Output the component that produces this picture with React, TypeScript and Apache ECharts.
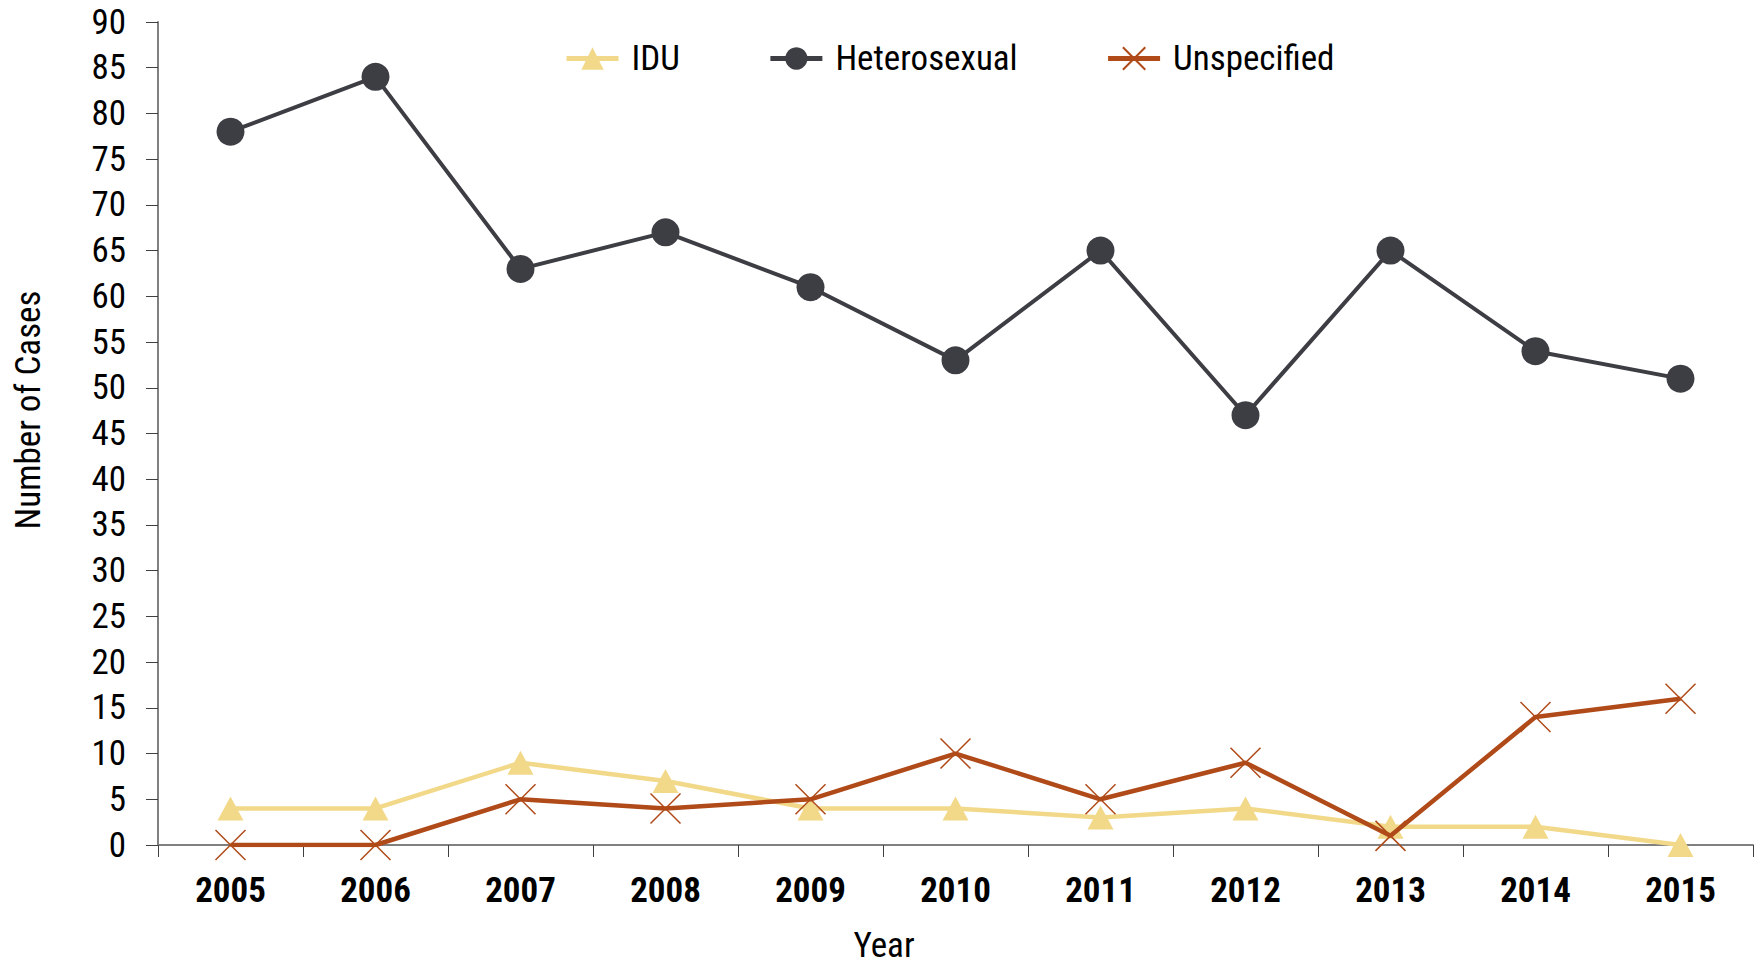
import React, { useEffect, useRef } from "react";
import * as echarts from "echarts";

const years = ["2005", "2006", "2007", "2008", "2009", "2010", "2011", "2012", "2013", "2014", "2015"];
const idu = [4, 4, 9, 7, 4, 4, 3, 4, 2, 2, 0];
const heterosexual = [78, 84, 63, 67, 61, 53, 65, 47, 65, 54, 51];
const unspecified = [0, 0, 5, 4, 5, 10, 5, 9, 1, 14, 16];

const FONT = "'Roboto Condensed', 'DejaVu Sans Condensed', sans-serif";
const C_IDU = "#f2d98a";
const C_HET = "#3c3e44";
const C_UNS = "#b04a18";

export default function App() {
  const ref = useRef<HTMLDivElement>(null);
  useEffect(() => {
    if (!ref.current) return;
    const chart = echarts.init(ref.current, null, { renderer: "svg" });
    chart.setOption({
      animation: false,
      backgroundColor: "#ffffff",
      textStyle: { fontFamily: FONT },
      grid: { left: 158, right: 8, top: 22, bottom: 120, containLabel: false },
      legend: {
        left: 559,
        top: 36,
        itemWidth: 52,
        itemHeight: 28,
        itemGap: 88,
        lineStyle: { width: 5 },
        textStyle: { fontFamily: FONT, fontSize: 35, color: "#000", padding: [0, 0, 0, 8] },
        data: ["IDU", "Heterosexual", "Unspecified"],
      },
      xAxis: {
        type: "category",
        data: years,
        boundaryGap: true,
        axisLine: { lineStyle: { color: "#808080", width: 2 } },
        axisTick: { show: true, length: 12, lineStyle: { color: "#404040", width: 1 } },
        axisLabel: { fontFamily: FONT, fontSize: 35, fontWeight: "bold", color: "#000", margin: 28 },
      },
      yAxis: {
        type: "value",
        min: 0,
        max: 90,
        interval: 5,
        splitLine: { show: false },
        axisLine: { show: true, lineStyle: { color: "#808080", width: 2 } },
        axisTick: { show: true, length: 12, lineStyle: { color: "#404040", width: 1 } },
        axisLabel: { fontFamily: FONT, fontSize: 35, color: "#000", margin: 32 },
      },
      graphic: [
        {
          type: "text",
          x: 28,
          y: 410,
          rotation: Math.PI / 2,
          style: {
            text: "Number of Cases",
            fontFamily: FONT,
            fontSize: 35,
            fill: "#000",
            align: "center",
            verticalAlign: "middle",
          },
        },
        {
          type: "text",
          x: 884,
          y: 945,
          style: {
            text: "Year",
            fontFamily: FONT,
            fontSize: 35,
            fill: "#000",
            align: "center",
            verticalAlign: "middle",
          },
        },
      ],
      series: [
        {
          name: "IDU",
          type: "line",
          data: idu,
          symbol: "triangle",
          symbolSize: [26, 24],
          lineStyle: { color: C_IDU, width: 4.5 },
          itemStyle: { color: C_IDU },
          z: 2,
        },
        {
          name: "Heterosexual",
          type: "line",
          data: heterosexual,
          symbol: "circle",
          symbolSize: 28,
          lineStyle: { color: C_HET, width: 4 },
          itemStyle: { color: C_HET },
          z: 3,
        },
        {
          name: "Unspecified",
          type: "line",
          data: unspecified,
          symbol: "path://M0,0L10,10M10,0L0,10",
          symbolSize: 30,
          lineStyle: { color: C_UNS, width: 4.5 },
          itemStyle: { color: "rgba(0,0,0,0)", borderColor: C_UNS, borderWidth: 1.5 },
          z: 4,
        },
      ],
    });
    return () => chart.dispose();
  }, []);
  return <div ref={ref} style={{ position: "fixed", left: 0, top: 0, width: 1761, height: 965 }} />;
}
